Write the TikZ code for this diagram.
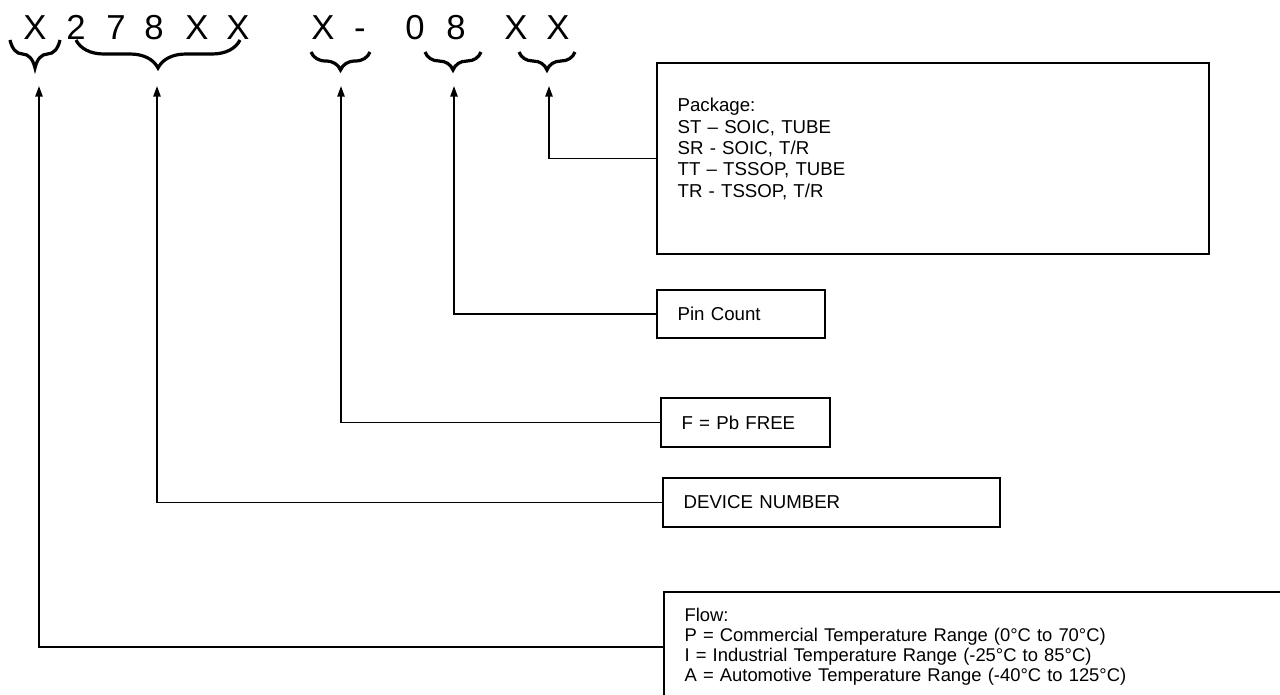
\documentclass[tikz,border=0pt]{standalone}
\usepackage{fontspec}
\setmainfont{Liberation Sans}
\usetikzlibrary{arrows.meta, decorations.pathreplacing}

\tikzset{
  box/.style={draw, line width=1.4pt, anchor=north west, align=left, inner xsep=15.5pt,
    font=\fontsize{14}{16}\selectfont},
  lead/.style={line width=1.2pt, -{Triangle[length=8pt, width=5.5pt]}},
  grp/.style={decorate, decoration={brace, mirror, amplitude=#1}, line width=2.4pt},
}

\begin{document}
\begin{tikzpicture}[x=0.75pt, y=-0.75pt]
\useasboundingbox (0,0) rectangle (1280,694);
\clip (0,0) rectangle (1280,694);

% Part number
\foreach \c/\x [count=\i] in {X/35, 2/76, 7/116, 8/154, X/197, X/238, X/323, -/360, 0/415, 8/456, X/516, X/558}
  \node[font=\fontsize{26}{26}\selectfont, anchor=base, inner sep=0pt] (c\i) at (\x,39) {\c};

% Braces
\draw[grp=21pt] (10,40) -- (60,40);
\draw[grp=21pt] (76,40) -- (240,40);
\draw[grp=13.5pt] (311,52) -- (370,52);
\draw[grp=13.5pt] (425,52) -- (481,52);
\draw[grp=13.5pt] (519,52) -- (575,52);

% Arrow tips
\path
(39,86) coordinate (flowtip)
(157,86) coordinate (devtip)
(341,86) coordinate (freetip)
(454,86) coordinate (pintip)
(549,86) coordinate (pkgtip)
;

% Boxes
\path
(656,62) node[box, text width=383pt, minimum height=143.25pt] (pkg)
  {Package:\\ ST – SOIC, TUBE\\ SR - SOIC, T/R\\ TT – TSSOP, TUBE\\ TR - TSSOP, T/R\\ \mbox{}}
(656,289) node[box, text width=95pt, minimum height=36pt] (pin) {Pin Count}
(660,397) node[box, text width=95.75pt, minimum height=36.75pt] (free) {F = Pb FREE}
(662,477) node[box, text width=221.75pt, minimum height=36.75pt] (dev) {DEVICE NUMBER}
(663,591) node[box, text width=449pt, minimum height=82.5pt, font=\fontsize{13.8}{15}\selectfont] (flow)
  {Flow:\\ P = Commercial Temperature Range (0°C to 70°C)\\
   I = Industrial Temperature Range (-25°C to 85°C)\\
   A = Automotive Temperature Range (-40°C to 125°C)}
;

\draw[lead] (pkg.west) -| (pkgtip);
\draw[lead] (pin.west) -| (pintip);
\draw[lead] (free.west) -| (freetip);
\draw[lead] (dev.west) -| (devtip);
\draw[lead] (flow.west) -| (flowtip);

\end{tikzpicture}
\end{document}
